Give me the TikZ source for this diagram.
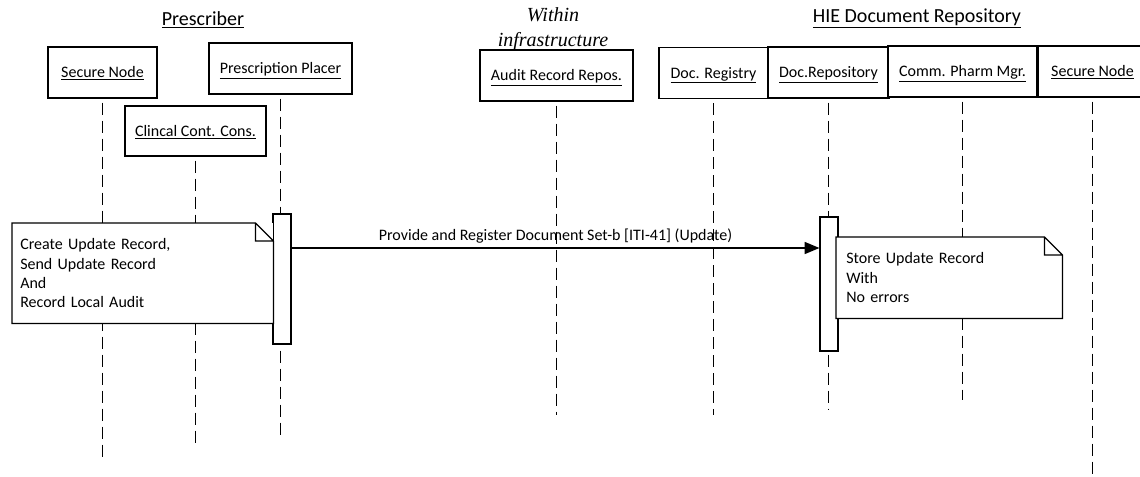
\documentclass[tikz,border=0pt]{standalone}
\usepackage{fontspec}
\setmainfont{Carlito}
\newfontfamily\headserif{Liberation Serif}
\usetikzlibrary{arrows.meta}
\newcommand{\noteoutline}[1]{%
  \draw[line width=0.9pt] (#1.north west) -- ([xshift=-13.5pt]#1.north east)
    -- ([yshift=-13.5pt]#1.north east) -- (#1.south east) -- (#1.south west) -- cycle
    ([xshift=-13.5pt]#1.north east) |- ([yshift=-13.5pt]#1.north east);}

\begin{document}
\begin{tikzpicture}[x=0.75pt,y=-0.75pt,>={Triangle[length=11pt,width=9pt]},
  font=\fontsize{12}{14.6}\selectfont,
  lifebox/.style={draw,line width=1pt,fill=white,minimum height=38.25pt,inner sep=0pt,
    text height=7.7pt,text depth=0pt},
  lifeline/.style={line width=0.8pt,dash pattern=on 9pt off 4.5pt},
  actbar/.style={draw,line width=0.9pt,fill=white,minimum width=13.5pt,inner sep=0pt},
  notebox/.style={fill=white,align=left,inner ysep=0pt,anchor=north west},
  heading/.style={font=\fontsize{15}{18}\selectfont,inner sep=0pt}]
  \clip (0,0) rectangle (1140,476);

  % group headings
  \node[heading,anchor=base] (prescriber) at (203,25) {\underline{Prescriber}};
  \node[heading,anchor=north,align=center,font=\headserif\itshape\fontsize{15}{18.75}\selectfont]
    (infra) at (553,7) {Within\\infrastructure};
  \node[heading,anchor=base] (hie) at (917,22) {\underline{HIE Document Repository}};

  % participants
  \node[lifebox,minimum width=81.75pt] (snode) at (102.5,72.5) {\underline{Secure Node}};
  \node[lifebox,minimum width=107.25pt] (placer) at (280.5,68.5) {\underline{Prescription Placer}};
  \node[lifebox,minimum width=105.75pt,minimum height=37.5pt] (ccc) at (195.5,131) {\underline{Clincal Cont. Cons.}};
  \node[lifebox,minimum width=114.75pt] (audit) at (556.5,75.5) {\underline{Audit Record Repos.}};
  \node[lifebox,minimum width=81.75pt] (registry) at (713.5,73) {\underline{Doc. Registry}};
  \node[lifebox,minimum width=90.75pt] (repository) at (828.5,72.5) {\underline{Doc.Repository}};
  \node[lifebox,minimum width=111.75pt] (pharm) at (962.5,71.5) {\underline{Comm. Pharm Mgr.}};
  \node[lifebox,minimum width=81.75pt] (snodeb) at (1092.5,71.5) {\underline{Secure Node}};

  \foreach \n/\e in {snode/457,ccc/443,placer/437,audit/415,registry/415,repository/410,pharm/400,snodeb/476}
    \draw[lifeline] ([yshift=-3pt]\n.south) -- (\n.south |- 0,\e);

  % activations
  \node[actbar,minimum height=97.5pt] (sendbar) at (282,279) {};
  \node[actbar,minimum height=100.5pt] (storebar) at (829,284) {};

  % notes
  \node[notebox,text width=183.75pt,inner xsep=6pt,minimum height=75pt] (sendnote) at (12,223)
    {Create Update Record,\\Send Update Record\\And\\Record Local Audit};
  \noteoutline{sendnote}
  \node[notebox,text width=154.5pt,inner xsep=7.5pt,minimum height=60.75pt] (storenote) at (836,237)
    {Store Update Record\\With\\No errors};
  \noteoutline{storenote}

  \draw[->,line width=0.9pt] (sendbar.east |- 0,248) -- node[above] (msg)
    {Provide and Register Document Set-b [ITI-41] (Update)} (storebar.west |- 0,248);
\end{tikzpicture}
\end{document}
